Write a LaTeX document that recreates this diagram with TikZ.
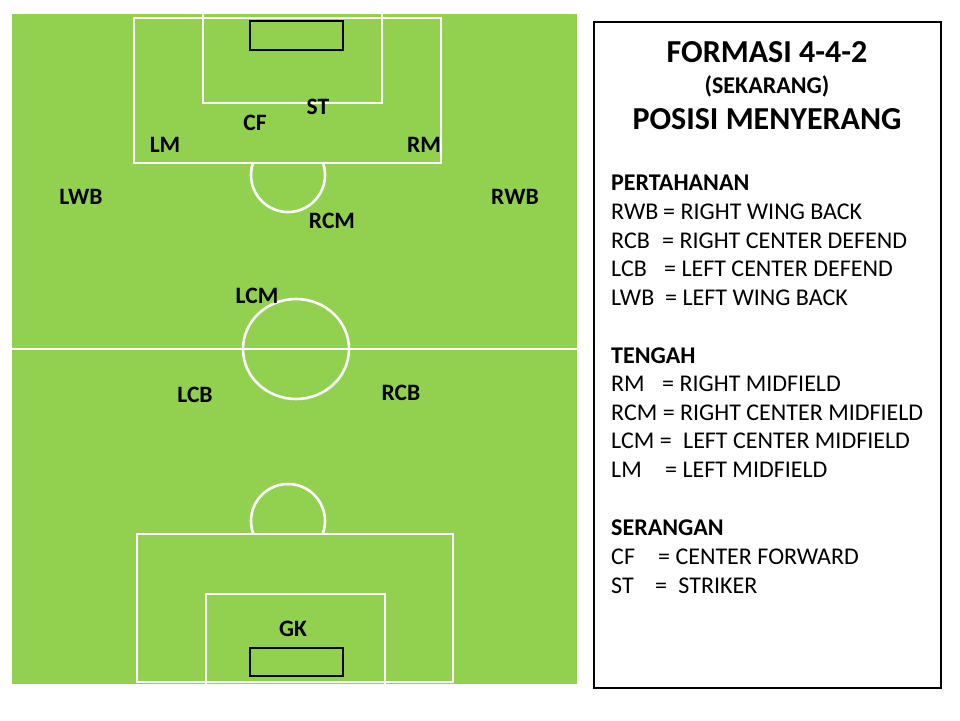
\documentclass[tikz,border=0pt]{standalone}
\usepackage{fontspec}
\setmainfont{Carlito}
\usepackage{xcolor}
\usepackage{tikz}
\usetikzlibrary{positioning}
\definecolor{pitch}{HTML}{92D050}
\tikzstyle{line}=[draw=white,line width=2.6pt]
\tikzstyle{box}=[line,fill=pitch]
\tikzstyle{goal}=[draw=black,line width=2.6pt]
\tikzstyle{player}=[inner sep=0pt,font=\fontsize{23.5}{26}\selectfont\bfseries]
\tikzstyle{legend}=[inner sep=0pt,anchor=base west,font=\fontsize{24}{27}\selectfont]
\newcommand{\abbr}[2]{\makebox[#1pt][l]{#2}}

\begin{document}
\begin{tikzpicture}[x=1pt,y=-1pt]
  \useasboundingbox (0,0) rectangle (960,720);
  % pitch
  \fill[pitch] (12,14) rectangle (577,684);
  \draw[line] (12,349) -- (577,349);
  \draw[line] (296,349) ellipse [x radius=53,y radius=50];
  % top half
  \draw[line] (288,175) circle [radius=37];
  \draw[box] (134,18) rectangle (441,163);
  \draw[line] (203,12) rectangle (382,103);
  \draw[goal] (250,21) rectangle (343,50);
  % bottom half
  \draw[line] (288,521) circle [radius=37];
  \draw[box] (137,534) rectangle (453,682);
  \draw[line] (206,594) rectangle (385,688);
  \draw[goal] (250,648) rectangle (343,676);
  % players
  \node[player] (st) at (318,107) {ST};
  \node[player] (cf) at (255,123) {CF};
  \node[player] (lm) at (165,145) {LM};
  \node[player] (rm) at (424,145) {RM};
  \node[player] (lwb) at (81,197) {LWB};
  \node[player] (rwb) at (515,197) {RWB};
  \node[player] (rcm) at (332,221) {RCM};
  \node[player] (lcm) at (257,296) {LCM};
  \node[player] (lcb) at (195,395) {LCB};
  \node[player] (rcb) at (401,393) {RCB};
  \node[player] (gk) at (293,629) {GK};
  % legend panel
  \draw[black,line width=2.6pt] (594,22) rectangle (941,688);
  \node[font=\fontsize{32}{35}\selectfont\bfseries] (title) at (767,52) {FORMASI 4-4-2};
  \node[font=\fontsize{24}{27}\selectfont\bfseries] (now) at (767,86) {(SEKARANG)};
  \node[font=\fontsize{32}{35}\selectfont\bfseries] (mode) at (767,119) {POSISI MENYERANG};
  \node[legend,font=\fontsize{24}{27}\selectfont\bfseries] (def) at (611,190) {PERTAHANAN};
  \node[legend] (rwbkey) at (611,219) {\abbr{52}{RWB}= RIGHT WING BACK};
  \node[legend] (rcbkey) at (611,248) {\abbr{51}{RCB}= RIGHT CENTER DEFEND};
  \node[legend] (lcbkey) at (611,276) {\abbr{53}{LCB}= LEFT CENTER DEFEND};
  \node[legend] (lwbkey) at (611,305) {\abbr{54}{LWB}= LEFT WING BACK};
  \node[legend,font=\fontsize{24}{27}\selectfont\bfseries] (mid) at (611,363) {TENGAH};
  \node[legend] (rmkey) at (611,391) {\abbr{51}{RM}= RIGHT MIDFIELD};
  \node[legend] (rcmkey) at (611,420) {RCM = RIGHT CENTER MIDFIELD};
  \node[legend] (lcmkey) at (611,448) {\abbr{72}{LCM =}LEFT CENTER MIDFIELD};
  \node[legend] (lmkey) at (611,477) {\abbr{54}{LM}= LEFT MIDFIELD};
  \node[legend,font=\fontsize{24}{27}\selectfont\bfseries] (att) at (611,535) {SERANGAN};
  \node[legend] (cfkey) at (611,564) {\abbr{47}{CF}= CENTER FORWARD};
  \node[legend] (stkey) at (611,593) {\abbr{44}{ST}\abbr{23.3}{=}STRIKER};
\end{tikzpicture}
\end{document}
